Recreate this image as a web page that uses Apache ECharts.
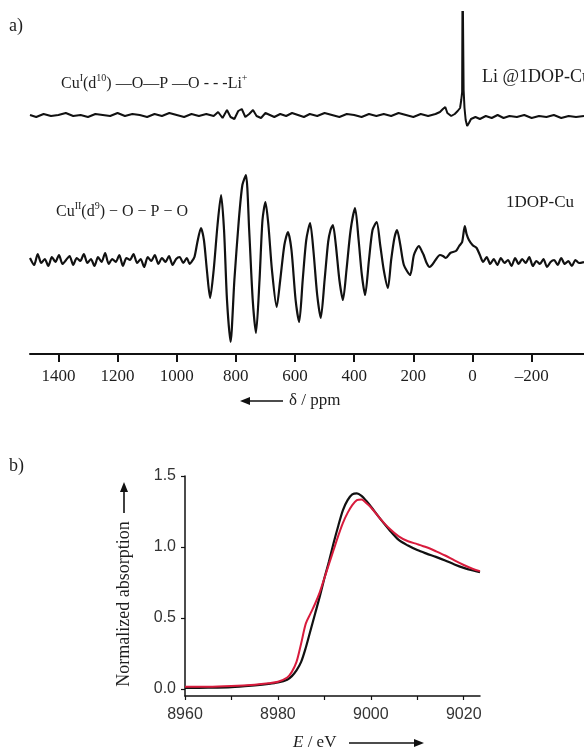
<!DOCTYPE html>
<html>
<head>
<meta charset="utf-8">
<script src="https://cdn.jsdelivr.net/npm/echarts@6/dist/echarts.min.js"></script>
<style>
html,body{margin:0;padding:0;background:#fff;}
#chart{width:584px;height:749px;}
</style>
</head>
<body>
<div id="chart"></div>
<script>
// ---------- Panel a: NMR traces (ppm, relative intensity) ----------
const nmrTicks = [1400, 1200, 1000, 800, 600, 400, 200, 0, -200];

const liTrace = [
  [1496,145],[1475,143],[1450,146],[1425,144],[1400,145],[1375,147],[1350,144],[1325,145],
  [1300,143],[1275,146],[1250,145],[1225,144],[1200,147],[1175,144],[1150,146],[1125,145],
  [1100,143],[1075,146],[1050,144],[1025,147],[1000,145],[975,143],[950,146],[925,144],
  [900,146],[875,144],[860,148],[845,142],[830,150],[818,143],[805,141],[792,149],[780,151],
  [768,143],[755,146],[742,150],[730,144],[715,142],[700,147],[685,145],[670,143],[650,146],
  [630,144],[610,147],[590,145],[570,143],[550,146],[525,144],[500,147],[475,145],[450,143],
  [425,146],[400,145],[375,143],[350,146],[325,144],[300,146],[275,144],[250,147],[225,145],
  [200,143],[175,146],[150,144],[125,146],[110,148],[100,151],[92,153],[85,147],[72,144],
  [60,146],[50,149],[42,152],[38,160],[35,168],[33.5,290],[32,290],[30,170],[27,152],
  [23,140],[18,134],[12,137],[5,141],[0,140],[-10,143],[-25,141],[-45,144],[-65,142],
  [-85,145],[-105,142],[-125,144],[-150,143],[-175,145],[-200,142],[-225,144],[-250,143],
  [-275,145],[-300,142],[-325,144],[-350,143],[-377,144]
];

const cuTrace = [
  [1496,2],[1482,-5],[1470,6],[1458,-3],[1446,1],[1434,-6],[1422,3],[1410,-2],[1398,5],
  [1386,-4],[1374,0],[1362,4],[1350,-5],[1338,2],[1326,-1],[1314,6],[1302,-3],[1290,1],
  [1278,-6],[1266,3],[1254,-2],[1242,7],[1230,-4],[1218,1],[1206,-2],[1194,5],[1182,-6],
  [1170,2],[1158,0],[1146,6],[1134,-3],[1122,1],[1110,-7],[1098,3],[1086,-1],[1074,5],
  [1062,-4],[1050,2],[1038,-2],[1026,4],[1014,-5],[1002,1],[990,3],[978,-3],[966,2],[956,-4],
  [950,-2],[940,3],[930,18],[918,32],[908,20],[898,-10],[887,-38],[875,-10],[862,35],
  [850,65],[840,30],[830,-40],[818,-82],[805,-20],[790,40],[778,75],[766,85],[755,30],
  [743,-40],[732,-73],[720,-20],[710,40],[700,58],[690,35],[678,-10],[662,-47],[650,-20],
  [636,15],[624,28],[612,10],[598,-40],[586,-62],[574,-20],[562,20],[549,37],[538,10],
  [525,-35],[513,-58],[500,-20],[488,18],[480,30],[472,35],[462,15],[450,-20],[438,-40],
  [426,-10],[412,30],[397,52],[385,20],[374,-15],[363,-35],[350,0],[338,30],[324,38],
  [312,15],[300,-10],[286,-28],[275,0],[264,22],[255,30],[244,15],[232,-5],[211,-15],
  [198,5],[181,14],[170,8],[165,5],[155,-3],[145,-7],[137,-5],[125,0],[110,5],[100,4],
  [90,2],[75,7],[56,9],[45,14],[35,18],[26,34],[20,26],[12,20],[0,15],[-14,12],
  [-25,5],[-36,-2],[-48,3],[-60,-4],[-72,1],[-84,-5],[-96,2],[-108,-3],[-120,0],[-132,-6],
  [-144,2],[-156,-4],[-168,1],[-180,-3],[-192,3],[-204,-6],[-216,-1],[-228,-4],[-240,1],
  [-252,-7],[-264,-2],[-276,0],[-288,-5],[-300,2],[-312,-4],[-324,-1],[-336,-6],[-348,0],
  [-360,-3],[-377,-2]
];

// ---------- Panel b: Cu K-edge XANES ----------
const energy = [8960,8965,8970,8975,8978,8980,8982,8983,8984,8985,8986,8987,8988,8989,8990,
  8991,8992,8993,8994,8995,8996,8997,8998,8999,9000,9002,9004,9006,9008,9010,9012,9014,
  9016,9018,9020,9022,9023.5];
const blackAbs = [0.007,0.008,0.012,0.025,0.035,0.045,0.065,0.09,0.13,0.19,0.29,0.41,0.53,
  0.65,0.78,0.9,1.03,1.15,1.26,1.33,1.37,1.378,1.36,1.325,1.285,1.2,1.12,1.05,1.01,0.978,
  0.953,0.93,0.905,0.877,0.853,0.834,0.822];
const redAbs = [0.015,0.015,0.02,0.03,0.04,0.05,0.08,0.12,0.19,0.32,0.46,0.53,0.6,0.68,0.78,
  0.88,0.98,1.08,1.17,1.24,1.295,1.33,1.335,1.31,1.28,1.2,1.13,1.075,1.04,1.02,0.998,0.97,
  0.94,0.905,0.873,0.845,0.83];
const xanesXTicks = [8960, 8980, 9000, 9020];
const xanesXAllTicks = [8960, 8970, 8980, 8990, 9000, 9010, 9020];
const xanesYTicks = [0, 0.5, 1.0, 1.5];

const serif = '"Liberation Serif", "Times New Roman", serif';
const sans = '"Liberation Sans", Arial, sans-serif';
const txt = '#1e1e1e';

const chart = echarts.init(document.getElementById('chart'), null, {renderer: 'canvas'});

const richSup = {
  m: {fontFamily: serif, fontSize: 16, lineHeight: 22, fill: txt},
  s: {fontFamily: serif, fontSize: 10, lineHeight: 10, verticalAlign: 'top', fill: txt}
};

const option = {
  animation: false,
  backgroundColor: '#ffffff',
  grid: [
    {left: 30, right: 0, top: 12, bottom: 395, containLabel: false},
    {left: 185, right: 104, top: 476, bottom: 53, containLabel: false}
  ],
  xAxis: [
    {
      gridIndex: 0, type: 'value', inverse: true, min: -377, max: 1496,
      axisLine: {show: true, onZero: false, lineStyle: {color: '#111', width: 2}},
      axisTick: {show: true, inside: false, length: 8, lineStyle: {color: '#111', width: 2}, customValues: nmrTicks},
      axisLabel: {customValues: nmrTicks, fontFamily: serif, fontSize: 17, color: txt, margin: 14,
        formatter: v => v < 0 ? '\u2013' + Math.abs(v) : String(v)},
      splitLine: {show: false}
    },
    {
      gridIndex: 1, type: 'value', min: 8960, max: 9023.5,
      axisLine: {show: true, onZero: false, lineStyle: {color: '#111', width: 1.5}},
      axisTick: {show: true, length: 4, lineStyle: {color: '#111', width: 1.2}, customValues: xanesXAllTicks},
      axisLabel: {customValues: xanesXTicks, fontFamily: sans, fontSize: 16, color: '#333', margin: 11,
        formatter: v => String(v)},
      splitLine: {show: false}
    }
  ],
  yAxis: [
    {gridIndex: 0, type: 'value', min: -94, max: 248, show: false},
    {
      gridIndex: 1, type: 'value', min: -0.05, max: 1.5,
      axisLine: {show: true, onZero: false, lineStyle: {color: '#111', width: 1.5}},
      axisTick: {show: true, length: 4, lineStyle: {color: '#111', width: 1.2}, customValues: xanesYTicks},
      axisLabel: {customValues: xanesYTicks, fontFamily: sans, fontSize: 16, color: '#333', margin: 9,
        formatter: v => v.toFixed(1)},
      splitLine: {show: false}
    }
  ],
  series: [
    {type: 'line', xAxisIndex: 0, yAxisIndex: 0, data: liTrace, showSymbol: false,
      lineStyle: {color: '#111', width: 2}, silent: true},
    {type: 'line', xAxisIndex: 0, yAxisIndex: 0, data: cuTrace, showSymbol: false, smooth: 0.25,
      lineStyle: {color: '#111', width: 2.2}, silent: true},
    {type: 'line', xAxisIndex: 1, yAxisIndex: 1, data: energy.map((e, i) => [e, blackAbs[i]]),
      showSymbol: false, smooth: 0.3, lineStyle: {color: '#111', width: 2.2}, silent: true},
    {type: 'line', xAxisIndex: 1, yAxisIndex: 1, data: energy.map((e, i) => [e, redAbs[i]]),
      showSymbol: false, smooth: 0.3, lineStyle: {color: '#d81b3c', width: 2}, silent: true}
  ],
  graphic: [
    {type: 'text', left: 9, top: 17, style: {text: 'a)', font: '18px ' + serif, fill: txt}},
    {type: 'text', left: 9, top: 457, style: {text: 'b)', font: '18px ' + serif, fill: txt}},
    {type: 'text', x: 61, y: 84, style: {
      text: '{m|Cu}{s|I}{m|(d}{s|10}{m|) \u2014O\u2014P \u2014O - - -Li}{s|+}',
      verticalAlign: 'middle', fill: txt, rich: richSup}},
    {type: 'text', x: 482, y: 77, style: {text: 'Li @1DOP-Cu', font: '18px ' + serif, fill: txt, verticalAlign: 'middle'}},
    {type: 'text', x: 56, y: 212, style: {
      text: '{m|Cu}{s|II}{m|(d}{s|9}{m|) \u2212 O \u2212 P \u2212 O}',
      verticalAlign: 'middle', fill: txt, rich: richSup}},
    {type: 'text', x: 506, y: 203, style: {text: '1DOP-Cu', font: '17px ' + serif, fill: txt, verticalAlign: 'middle'}},
    // delta / ppm with left arrow
    {type: 'line', shape: {x1: 283, y1: 401, x2: 248, y2: 401}, style: {stroke: '#111', lineWidth: 1.6}},
    {type: 'polygon', shape: {points: [[240, 401], [250, 397], [250, 405]]}, style: {fill: '#111'}},
    {type: 'text', x: 289, y: 401, style: {text: '\u03b4 / ppm', font: '17px ' + serif, fill: txt, verticalAlign: 'middle'}},
    // E / eV with right arrow
    {type: 'text', x: 293, y: 743, style: {
      text: '{i|E}{m| / eV}', verticalAlign: 'middle', fill: txt,
      rich: {
        i: {fontFamily: serif, fontStyle: 'italic', fontSize: 17, fill: txt},
        m: {fontFamily: serif, fontSize: 17, fill: txt}
      }}},
    {type: 'line', shape: {x1: 349, y1: 743, x2: 416, y2: 743}, style: {stroke: '#111', lineWidth: 1.6}},
    {type: 'polygon', shape: {points: [[424, 743], [414, 739], [414, 747]]}, style: {fill: '#111'}},
    // y-axis name with up arrow
    {type: 'text', x: 124, y: 604, rotation: Math.PI / 2, style: {
      text: 'Normalized absorption', font: '18px ' + serif, fill: txt, align: 'center', verticalAlign: 'middle'}},
    {type: 'line', shape: {x1: 124, y1: 513, x2: 124, y2: 490}, style: {stroke: '#111', lineWidth: 1.6}},
    {type: 'polygon', shape: {points: [[124, 482], [120, 492], [128, 492]]}, style: {fill: '#111'}}
  ]
};
chart.setOption(option);
</script>
</body>
</html>
